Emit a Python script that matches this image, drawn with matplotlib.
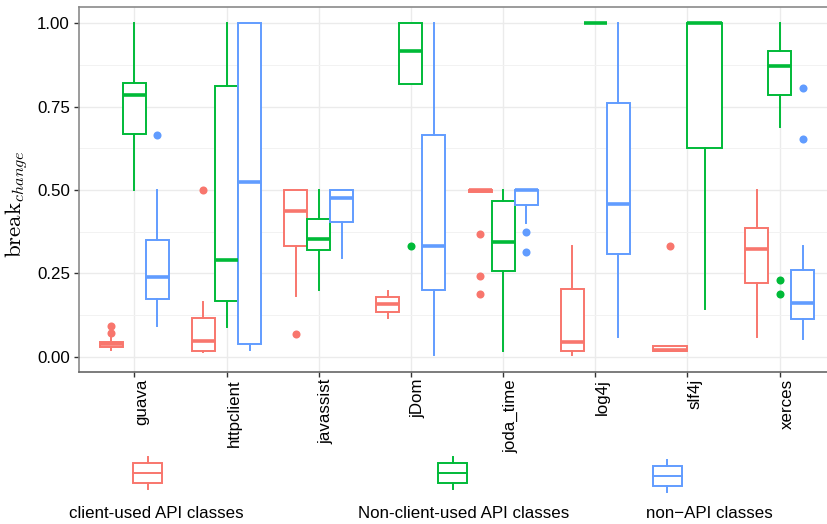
import matplotlib
matplotlib.use("Agg")
import matplotlib.pyplot as plt
from matplotlib.patches import Rectangle
from matplotlib.lines import Line2D
from matplotlib.ticker import MultipleLocator

plt.rcParams['font.family'] = ['Liberation Sans', 'DejaVu Sans']
plt.rcParams['mathtext.fontset'] = 'cm'

categories = ["guava", "httpclient", "javassist", "jDom", "joda_time", "log4j", "slf4j", "xerces"]
groups = ["client-used API classes", "Non-client-used API classes", "non\u2212API classes"]
colors = ["#F8766D", "#00BA38", "#619CFF"]

# box statistics per group (None = group absent in that category)
client_lo   = [0.021, 0.016, 0.184, 0.116, 0.494, 0.006, 0.019, 0.059]
client_q1   = [0.031, 0.019, 0.333, 0.136, 0.494, 0.018, 0.019, 0.222]
client_med  = [0.039, 0.047, 0.437, 0.159, 0.500, 0.045, 0.021, 0.322]
client_q3   = [0.046, 0.116, 0.500, 0.179, 0.500, 0.204, 0.033, 0.387]
client_hi   = [0.056, 0.166, 0.500, 0.199, 0.500, 0.332, 0.033, 0.500]
client_out  = [[0.071, 0.093], [0.500], [0.068], [], [0.367, 0.243, 0.189], [], [0.332], []]

nonclient_lo  = [0.500, 0.091, 0.200, 0.816, 0.019, 1.000, 0.143, 0.690]
nonclient_q1  = [0.667, 0.168, 0.320, 0.816, 0.257, 1.000, 0.625, 0.784]
nonclient_med = [0.784, 0.290, 0.352, 0.916, 0.345, 1.000, 1.000, 0.871]
nonclient_q3  = [0.821, 0.812, 0.413, 1.000, 0.467, 1.000, 1.000, 0.916]
nonclient_hi  = [1.000, 1.000, 0.500, 1.000, 0.500, 1.000, 1.000, 1.000]
nonclient_out = [[], [], [], [0.333], [], [], [], [0.231, 0.188]]

nonapi_lo   = [0.093, 0.021, 0.295, 0.006, 0.400, 0.061, None, 0.053]
nonapi_q1   = [0.174, 0.040, 0.403, 0.200, 0.455, 0.309, None, 0.113]
nonapi_med  = [0.239, 0.523, 0.476, 0.333, 0.500, 0.457, None, 0.161]
nonapi_q3   = [0.349, 1.000, 0.500, 0.666, 0.500, 0.761, None, 0.260]
nonapi_hi   = [0.500, 1.000, 0.500, 1.000, 0.500, 1.000, None, 0.332]
nonapi_out  = [[0.666], [], [], [], [0.375, 0.315], [], [], [0.806, 0.654]]

series = [
    (client_lo, client_q1, client_med, client_q3, client_hi, client_out),
    (nonclient_lo, nonclient_q1, nonclient_med, nonclient_q3, nonclient_hi, nonclient_out),
    (nonapi_lo, nonapi_q1, nonapi_med, nonapi_q3, nonapi_hi, nonapi_out),
]

W, H = 828, 524
fig = plt.figure(figsize=(W / 100, H / 100), dpi=100)
ax = fig.add_axes([79 / W, 1 - 372 / H, 756 / W, 365 / H])

ax.set_xlim(-0.6, len(categories) - 1 + 0.6)
ax.set_ylim(-0.045, 1.048)

dodge_total = 0.75
for ci, cat in enumerate(categories):
    present = [g for g in range(3) if series[g][0][ci] is not None]
    n = len(present)
    w = dodge_total / n
    for k, g in enumerate(present):
        lo, q1, med, q3, hi, out = series[g]
        pos = ci - dodge_total / 2 + w * (k + 0.5)
        st = dict(whislo=lo[ci], q1=q1[ci], med=med[ci], q3=q3[ci], whishi=hi[ci], fliers=out[ci])
        c = colors[g]
        ax.bxp([st], positions=[pos], widths=[w], showfliers=True, showcaps=False,
               patch_artist=True,
               boxprops=dict(facecolor="white", edgecolor=c, linewidth=1.4),
               whiskerprops=dict(color=c, linewidth=1.4),
               medianprops=dict(color=c, linewidth=2.6, solid_capstyle='butt'),
               flierprops=dict(marker='o', markerfacecolor=c, markeredgecolor='none', markersize=5.8),
               zorder=3)

ax.set_xticks(range(len(categories)))
ax.set_xticklabels(categories, rotation=90, ha='left', va='top', fontsize=12.2)
ax.set_yticks([0, 0.25, 0.5, 0.75, 1.0])
ax.set_yticklabels(["0.00", "0.25", "0.50", "0.75", "1.00"], fontsize=12.2)
ax.yaxis.set_minor_locator(MultipleLocator(0.125))
ax.set_axisbelow(True)
ax.grid(which='major', color='#EBEBEB', linewidth=1.0)
ax.grid(which='minor', axis='y', color='#F2F2F2', linewidth=0.7)
ax.tick_params(axis='both', which='major', length=3.5, width=1.0, color='#333333', pad=3)
ax.tick_params(axis='y', which='minor', length=0)
ax.tick_params(axis='x', pad=1.5)
for s in ['left', 'top']:
    ax.spines[s].set_color('#8A8A8A')
    ax.spines[s].set_linewidth(1.2)
ax.spines['bottom'].set_color('#666666')
ax.spines['bottom'].set_linewidth(1.2)
ax.spines['right'].set_visible(False)

fig.text(17 / W, 1 - 204 / H, r'$\mathrm{break}_{change}$', rotation=90,
         ha='center', va='center', fontsize=16.5)

# legend drawn in a full-figure overlay axes (pixel coordinates)
lax = fig.add_axes([0, 0, 1, 1])
lax.set_xlim(0, W)
lax.set_ylim(H, 0)
lax.axis('off')
key_x = [147.8, 453.0, 667.3]
key_y = [473.3, 473.3, 476.0]
label_x = [156.0, 464.0, 709.5]
for g in range(3):
    c = colors[g]
    cx, cy = key_x[g], key_y[g]
    lax.add_patch(Rectangle((cx - 14.5, cy - 10), 29, 20, facecolor='white', edgecolor=c, linewidth=1.4))
    lax.add_line(Line2D([cx - 14.5, cx + 14.5], [cy, cy], color=c, linewidth=1.4))
    lax.add_line(Line2D([cx, cx], [cy - 16, cy - 10], color=c, linewidth=1.4))
    lax.add_line(Line2D([cx, cx], [cy + 10, cy + 16], color=c, linewidth=1.4))
    lax.text(label_x[g], 518, groups[g], ha='center', va='baseline', fontsize=12.2)

fig.savefig("out.png", dpi=100)
